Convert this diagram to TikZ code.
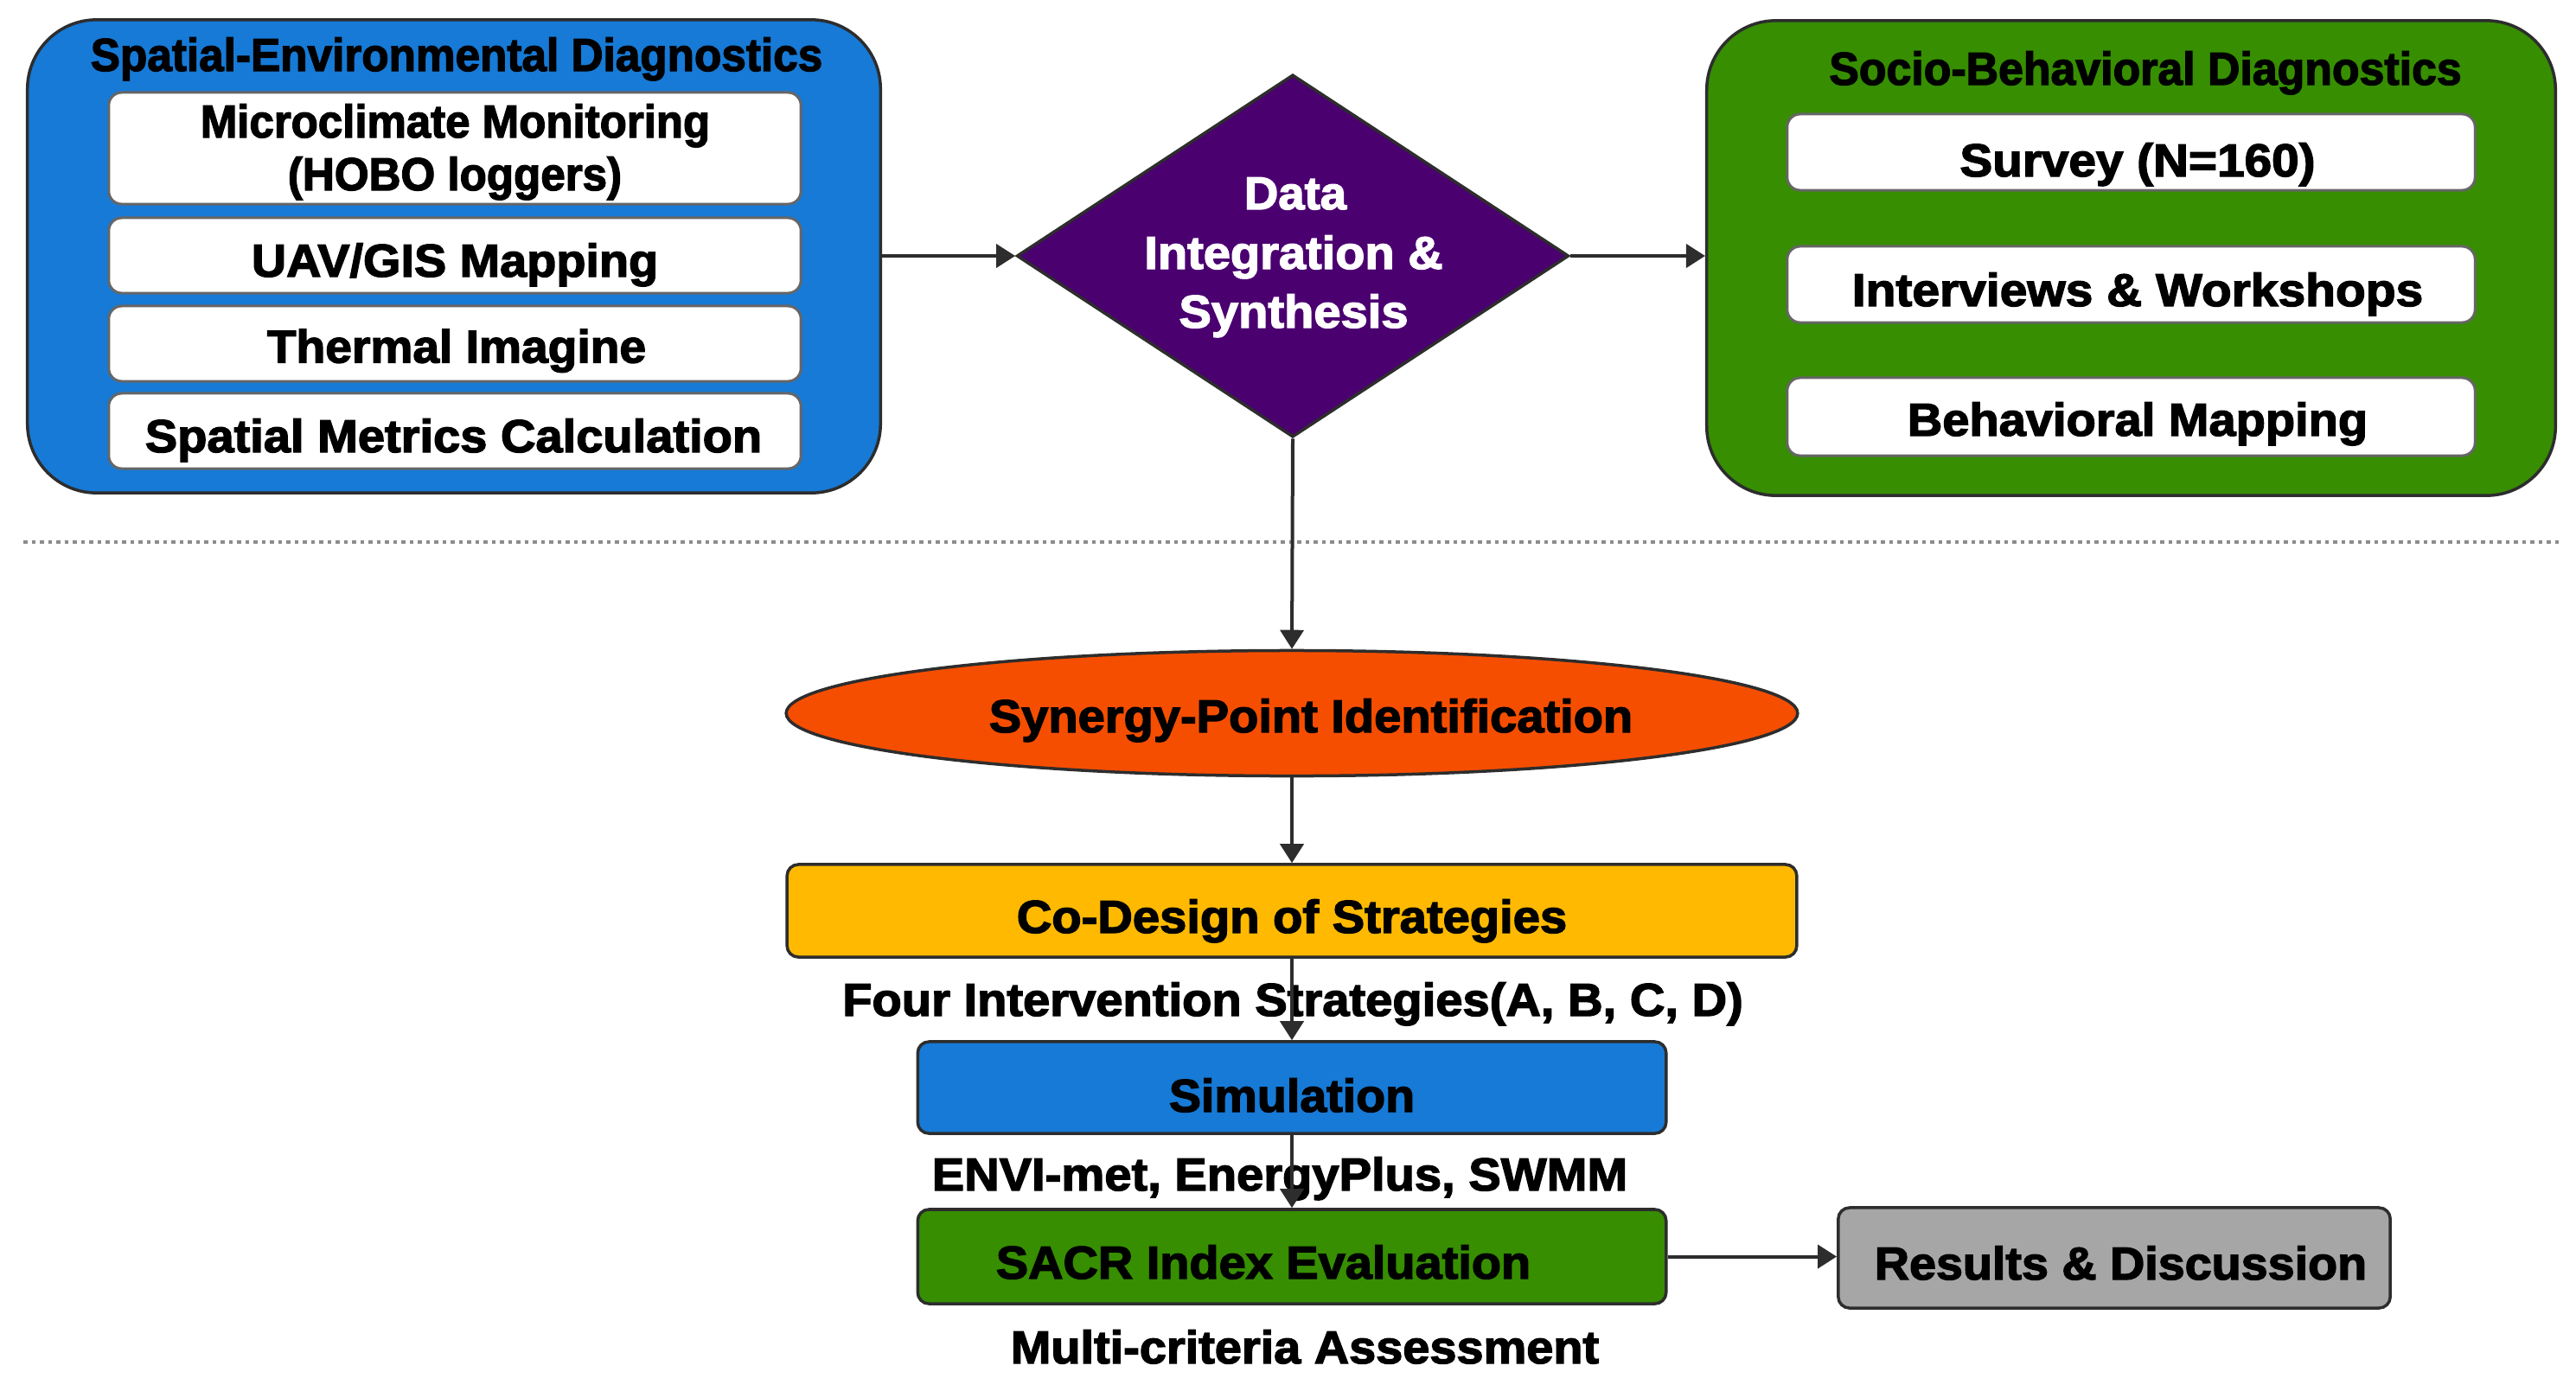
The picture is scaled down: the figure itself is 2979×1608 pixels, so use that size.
\documentclass[tikz,border=0pt]{standalone}
\usepackage{fontspec}
\setmainfont{Liberation Sans}
\newfontfamily\heavyfont{Liberation Sans Bold}[FakeBold=2.5]
\usetikzlibrary{arrows.meta,shapes.geometric}
\definecolor{cblue}{RGB}{22,122,214}
\definecolor{cgreen}{RGB}{54,142,0}
\definecolor{cpurple}{RGB}{75,0,112}
\definecolor{corange}{RGB}{245,78,0}
\definecolor{cyellow}{RGB}{255,185,0}
\definecolor{cgrey}{RGB}{166,166,166}
\definecolor{cline}{RGB}{45,45,45}
\newcommand\fw[2]{\resizebox{#1cm}{\height}{#2}}
\begin{document}
\begin{tikzpicture}[x=0.01cm,y=-0.01cm,
  box/.style={rectangle, draw=cline, line width=0.035cm, inner sep=0},
  outerbox/.style={box, rounded corners=0.8cm},
  wbox/.style={box, fill=white, draw=black!60, line width=0.03cm, rounded corners=0.15cm, minimum width=#1},
  flowbox/.style={box, rounded corners=0.13cm},
  lbl/.style={inner sep=0, anchor=base, font=\fontsize{15.2}{17}\selectfont\heavyfont},
  arr/.style={draw=cline, line width=0.04cm, -{Triangle[length=0.22cm,width=0.27cm]}},
]
\useasboundingbox (0,0) rectangle (2979,1608);

% outer groups
\node[outerbox, fill=cblue, minimum width=9.86cm, minimum height=5.47cm] (sed) at (525,296.5) {};
\node[outerbox, fill=cgreen, minimum width=9.81cm, minimum height=5.49cm] (sbd) at (2464.5,298.5) {};

% white boxes left
\node[wbox=8cm, minimum height=1.29cm] (m1) at (526,171.5) {};
\node[wbox=8cm, minimum height=0.87cm] (m2) at (526,295.5) {};
\node[wbox=8cm, minimum height=0.87cm] (m3) at (526,397.5) {};
\node[wbox=8cm, minimum height=0.87cm] (m4) at (526,498.5) {};

% white boxes right
\node[wbox=7.95cm, minimum height=0.88cm] (s1) at (2464.5,176) {};
\node[wbox=7.95cm, minimum height=0.88cm] (s2) at (2464.5,329) {};
\node[wbox=7.95cm, minimum height=0.90cm] (s3) at (2464.5,482) {};

% diamond
\node[diamond, draw=cline, fill=cpurple, line width=0.035cm, inner sep=0,
      minimum width=6.38cm, minimum height=4.19cm] (dis) at (1495,296) {};

% divider
\draw[black!45, line width=0.035cm, dash pattern=on 0.045cm off 0.05cm] (27,627) -- (2960,627);

% lower flow
\node[ellipse, draw=cline, fill=corange, line width=0.035cm, inner sep=0,
      minimum width=11.69cm, minimum height=1.45cm] (syn) at (1494,825) {};
\node[flowbox, fill=cyellow, minimum width=11.67cm, minimum height=1.07cm] (cod) at (1494,1053.5) {};
\node[flowbox, fill=cblue, minimum width=8.65cm, minimum height=1.06cm] (sim) at (1494,1258) {};
\node[flowbox, fill=cgreen, minimum width=8.65cm, minimum height=1.09cm] (sacr) at (1494,1453.5) {};
\node[flowbox, fill=cgrey, minimum width=6.38cm, minimum height=1.16cm] (res) at (2445,1455) {};

% texts left
\node[lbl] (tsed) at (528,82) {\fw{8.46}{Spatial-Environmental Diagnostics}};
\node[lbl] (tm1a) at (526.5,159) {\fw{5.89}{Microclimate Monitoring}};
\node[lbl] (tm1b) at (526,220) {\fw{3.86}{(HOBO loggers)}};
\node[lbl] (tm2) at (526,320) {\fw{4.70}{UAV/GIS Mapping}};
\node[lbl] (tm3) at (528,419.5) {\fw{4.38}{Thermal Imagine}};
\node[lbl] (tm4) at (524.5,523) {\fw{7.13}{Spatial Metrics Calculation}};

% texts right
\node[lbl] (tsbd) at (2481,98) {\fw{7.31}{Socio-Behavioral Diagnostics}};
\node[lbl] (ts1) at (2472,204) {\fw{4.11}{Survey (N=160)}};
\node[lbl] (ts2) at (2472,354) {\fw{6.60}{Interviews \& Workshops}};
\node[lbl] (ts3) at (2472,504) {\fw{5.32}{Behavioral Mapping}};

% diamond text
\node[lbl, text=white] (td1) at (1498,242) {\fw{1.18}{Data}};
\node[lbl, text=white] (td2) at (1496,311) {\fw{3.45}{Integration \&}};
\node[lbl, text=white] (td3) at (1496,379) {\fw{2.65}{Synthesis}};

% flow texts
\node[lbl] (tsyn) at (1516,847) {\fw{7.44}{Synergy-Point Identification}};
\node[lbl] (tcod) at (1494,1079) {\fw{6.36}{Co-Design of Strategies}};
\node[lbl] (tfour) at (1495,1175) {\fw{10.41}{Four Intervention Strategies(A, B, C, D)}};
\node[lbl] (tsim) at (1494,1286) {\fw{2.84}{Simulation}};
\node[lbl] (tenv) at (1480,1377) {\fw{8.04}{ENVI-met, EnergyPlus, SWMM}};
\node[lbl] (tsacr) at (1461,1479) {\fw{6.18}{SACR Index Evaluation}};
\node[lbl] (tmul) at (1509,1577) {\fw{6.80}{Multi-criteria Assessment}};
\node[lbl] (tres) at (2452.5,1480) {\fw{5.69}{Results \& Discussion}};

% connectors (drawn over the labels, as in the reference)
\draw[arr] (sed.east |- dis.west) -- (dis.west);
\draw[arr] (dis.east) -- (sbd.west |- dis.east);
\draw[arr] (dis.south) -- (syn.north);
\draw[arr] (syn.south) -- (cod.north);
\draw[arr] (cod.south) -- (sim.north);
\draw[arr] (sim.south) -- (sacr.north);
\draw[arr] (sacr.east) -- (res.west |- sacr.east);
\end{tikzpicture}
\end{document}
